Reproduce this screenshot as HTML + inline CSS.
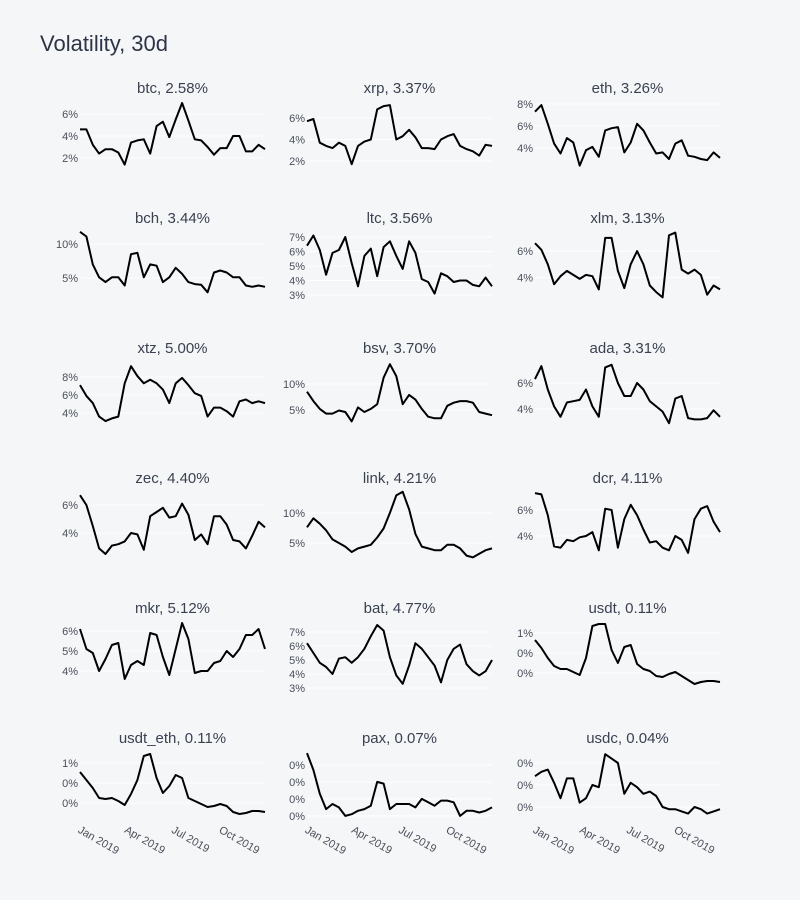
<!DOCTYPE html>
<html><head><meta charset="utf-8"><style>
html,body{margin:0;padding:0;background:#f5f6f8;}
svg{display:block;font-family:"Liberation Sans",sans-serif;}
</style></head><body>
<svg id="chart" width="800" height="900" viewBox="0 0 800 900" xmlns="http://www.w3.org/2000/svg">
<rect x="0" y="0" width="800" height="900" fill="#f5f6f8"/>
<text x="40" y="51" font-size="22" fill="#2d3446">Volatility, 30d</text>
<g id="panels"></g>
</svg>
<script>
const names = ["btc","xrp","eth","bch","ltc","xlm","xtz","bsv","ada","zec","link","dcr","mkr","bat","usdt","usdt_eth","pax","usdc"];
const headline = ["2.58%","3.37%","3.26%","3.44%","3.56%","3.13%","5.00%","3.70%","3.31%","4.40%","4.21%","4.11%","5.12%","4.77%","0.11%","0.11%","0.07%","0.04%"];
const btc = [4.6,4.6,3.2,2.4,2.8,2.8,2.5,1.4,3.4,3.6,3.7,2.4,4.9,5.3,3.9,5.5,7.0,5.4,3.7,3.6,3.0,2.3,2.9,2.9,4.0,4.0,2.6,2.6,3.2,2.8];
const xrp = [5.7,5.9,3.7,3.4,3.2,3.7,3.4,1.7,3.4,3.8,4.0,6.8,7.1,7.2,4.0,4.3,4.9,4.2,3.2,3.2,3.1,4.0,4.3,4.5,3.4,3.1,2.9,2.5,3.5,3.4];
const eth = [7.3,7.9,6.2,4.4,3.5,4.9,4.5,2.4,3.8,4.1,3.2,5.6,5.8,5.9,3.6,4.5,6.2,5.6,4.5,3.5,3.6,3.0,4.4,4.7,3.3,3.2,3.0,2.9,3.6,3.1];
const bch = [11.8,11.1,7.0,5.1,4.4,5.1,5.1,3.9,8.5,8.7,5.1,7.0,6.8,4.4,5.1,6.5,5.6,4.4,4.1,4.0,2.9,5.8,6.1,5.8,5.1,5.1,3.9,3.7,3.9,3.7];
const ltc = [6.4,7.1,6.1,4.4,5.9,6.1,7.0,5.2,3.6,5.7,6.2,4.3,6.3,6.7,5.7,4.8,6.7,5.9,4.1,3.9,3.1,4.5,4.3,3.9,4.0,4.0,3.7,3.6,4.2,3.6];
const xlm = [6.6,6.1,5.0,3.5,4.1,4.5,4.2,3.9,4.2,4.1,3.1,7.0,7.0,4.5,3.2,5.0,6.0,5.0,3.4,2.9,2.5,7.2,7.4,4.6,4.3,4.6,4.2,2.7,3.4,3.1];
const xtz = [7.1,5.9,5.1,3.6,3.1,3.4,3.6,7.3,9.2,8.1,7.3,7.7,7.3,6.6,5.1,7.3,7.9,7.1,6.2,5.9,3.6,4.6,4.6,4.2,3.6,5.3,5.5,5.1,5.3,5.1];
const bsv = [8.5,6.7,5.2,4.3,4.3,4.9,4.6,2.8,5.5,4.6,5.2,6.1,11.2,13.8,11.5,6.1,7.9,7.0,5.2,3.7,3.4,3.4,5.8,6.4,6.7,6.7,6.4,4.6,4.3,4.0];
const ada = [6.3,7.3,5.5,4.2,3.4,4.5,4.6,4.7,5.5,4.2,3.4,7.2,7.4,6.0,5.0,5.0,6.0,5.5,4.6,4.2,3.8,2.9,4.8,5.0,3.3,3.2,3.2,3.3,3.9,3.4];
const zec = [6.7,6.0,4.5,2.9,2.5,3.1,3.2,3.4,4.0,3.9,2.8,5.2,5.5,5.8,5.1,5.2,6.1,5.3,3.5,3.9,3.2,5.2,5.2,4.6,3.5,3.4,2.9,3.8,4.8,4.4];
const link = [7.6,9.1,8.2,7.1,5.6,5.0,4.4,3.5,4.1,4.4,4.7,5.9,7.4,10.0,12.9,13.5,10.6,6.5,4.4,4.1,3.8,3.8,4.7,4.7,4.1,2.9,2.6,3.2,3.8,4.1];
const dcr = [7.3,7.2,5.6,3.2,3.1,3.7,3.6,3.9,4.0,4.3,2.9,6.1,6.0,3.1,5.3,6.4,5.6,4.5,3.5,3.6,3.1,2.9,4.0,3.7,2.7,5.3,6.1,6.3,5.1,4.3];
const mkr = [6.1,5.1,4.9,4.0,4.6,5.3,5.4,3.6,4.3,4.5,4.3,5.9,5.8,4.7,3.8,5.1,6.4,5.6,3.9,4.0,4.0,4.4,4.5,5.0,4.7,5.1,5.8,5.8,6.1,5.1];
const bat = [6.2,5.5,4.8,4.5,4.0,5.1,5.2,4.8,5.2,5.8,6.7,7.5,7.1,5.2,3.9,3.3,4.6,6.2,5.8,5.2,4.6,3.4,5.0,5.8,6.1,4.7,4.2,3.9,4.2,5.0];
const usdt = [0.53,0.45,0.35,0.27,0.24,0.24,0.21,0.18,0.35,0.67,0.69,0.69,0.43,0.30,0.46,0.48,0.29,0.24,0.22,0.17,0.16,0.19,0.21,0.17,0.13,0.09,0.11,0.12,0.12,0.11];
const usdt_eth = [0.51,0.43,0.35,0.25,0.24,0.25,0.22,0.18,0.29,0.43,0.67,0.69,0.45,0.30,0.37,0.48,0.45,0.25,0.22,0.19,0.16,0.17,0.19,0.17,0.11,0.09,0.10,0.12,0.12,0.11];
const pax = [0.37,0.27,0.13,0.04,0.07,0.05,0.00,0.01,0.03,0.04,0.06,0.20,0.19,0.04,0.07,0.07,0.07,0.05,0.10,0.08,0.06,0.09,0.09,0.08,0.00,0.03,0.03,0.02,0.03,0.05];
const usdc = [0.24,0.26,0.27,0.21,0.14,0.23,0.23,0.12,0.14,0.20,0.19,0.34,0.32,0.30,0.16,0.21,0.19,0.16,0.17,0.15,0.10,0.09,0.09,0.08,0.07,0.10,0.09,0.07,0.08,0.09];
const seriesList = [btc,xrp,eth,bch,ltc,xlm,xtz,bsv,ada,zec,link,dcr,mkr,bat,usdt,usdt_eth,pax,usdc];
const yDomains = [[0.91,7.27],[1.16,7.67],[2.0,8.36],[1.76,12.06],[2.66,7.48],[2.3,7.6],[2.11,9.89],[1.15,14.6],[2.38,7.77],[2.07,7.07],[2.17,13.8],[2.15,7.54],[3.05,6.55],[2.86,7.86],[0.03,0.73],[0.03,0.73],[-0.024,0.388],[0.041,0.359]];
const yTickValues = [[2,4,6],[2,4,6],[4,6,8],[5,10],[3,4,5,6,7],[4,6],[4,6,8],[5,10],[4,6],[4,6],[5,10],[4,6],[4,5,6],[3,4,5,6,7],[0.2,0.4,0.6],[0.2,0.4,0.6],[0,0.1,0.2,0.3],[0.1,0.2,0.3]];
const xTickDates = ["2019-01-01","2019-04-01","2019-07-01","2019-10-01"];
const xTickLabels = ["Jan 2019","Apr 2019","Jul 2019","Oct 2019"];
const startDate = "2018-12-20", endDate = "2019-12-13";

const NS = "http://www.w3.org/2000/svg";
const root = document.getElementById("panels");
const t0 = Date.parse(startDate), t1 = Date.parse(endDate);
function mk(tag, attrs, parent){const e=document.createElementNS(NS,tag);for(const k in attrs)e.setAttribute(k,attrs[k]);parent.appendChild(e);return e;}
const colX = [80,307,535], W = 185, H = 70;
function fmtTick(v){return Math.round(v)+"%";}

seriesList.forEach((vals, i) => {
  const r = Math.floor(i/3), c = i%3;
  const left = colX[c], top = 100 + r*130;
  const g = mk("g", {}, root);
  
  
  const [lo, hi] = yDomains[i];
  const yS = v => top + H - (v - lo) / (hi - lo) * H;
  const n = vals.length;
  const dates = vals.map((_, k) => t0 + (t1 - t0) * k / (n - 1));
  const xS = t => left + (t - t0) / (t1 - t0) * W;
  const title = mk("text", {x: left + W/2, y: top - 7, "text-anchor": "middle", "font-size": 15, fill: "#3a4150"}, g);
  title.textContent = names[i] + ", " + headline[i];
  
  
  yTickValues[i].forEach(v => {
    const y = yS(v);
    const gl = mk("line", {x1: left, x2: left + W, y1: y, y2: y, stroke: "#ffffff", "stroke-width": 1}, g);
    
    
    const lab = mk("text", {x: left - 2, y: y + 4, "text-anchor": "end", "font-size": 11, fill: "#4a4f5a"}, g);
    lab.textContent = fmtTick(v);
    
    
  });
  const d = vals.map((v, k) => (k ? "L" : "M") + xS(dates[k]).toFixed(1) + "," + yS(v).toFixed(1)).join(" ");
  const p = mk("path", {d: d, fill: "none", stroke: "#000", "stroke-width": 2, "stroke-linejoin": "round"}, g);
  
  
  if (r === 5) {
    xTickDates.forEach((ds, k) => {
      const x = xS(Date.parse(ds));
      const lab = mk("text", {x: x - 9, y: top + H + 12, "font-size": 11, fill: "#4a4f5a", transform: "rotate(30 " + (x - 9) + " " + (top + H + 12) + ")"}, g);
      lab.textContent = xTickLabels[k];
      
      
    });
  }
});
</script>
</body></html>
